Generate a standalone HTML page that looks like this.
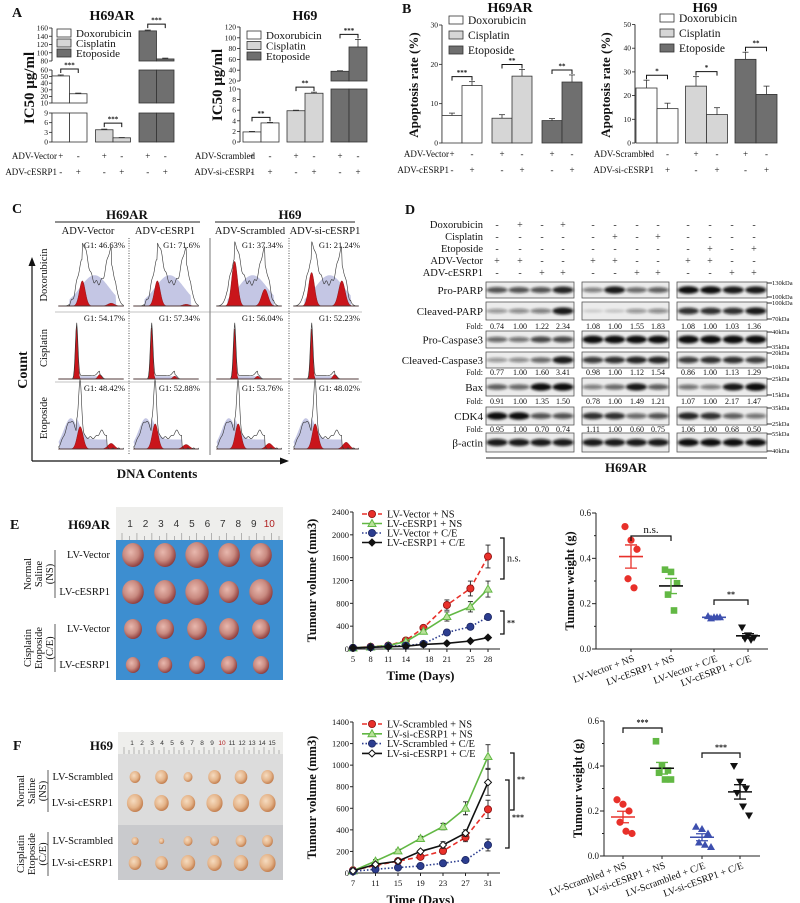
<!DOCTYPE html>
<html><head><meta charset="utf-8"><title>cESRP1 chemoresistance figure</title>
<style>body{margin:0;background:#fff}svg{display:block;font-family:"Liberation Serif",serif}</style></head>
<body>
<svg id="fig" width="800" height="903" viewBox="0 0 800 903" xmlns="http://www.w3.org/2000/svg">
<defs>
<filter id="blur1" x="-20%" y="-50%" width="140%" height="200%"><feGaussianBlur stdDeviation="1.3"/></filter>
<radialGradient id="tumR" cx="40%" cy="38%" r="65%"><stop offset="0" stop-color="#e8b8ae"/><stop offset=".55" stop-color="#c98a80"/><stop offset="1" stop-color="#8c3a3a"/></radialGradient>
<radialGradient id="tumP" cx="40%" cy="38%" r="65%"><stop offset="0" stop-color="#f6dcc0"/><stop offset=".6" stop-color="#e4b48a"/><stop offset="1" stop-color="#c07a4a"/></radialGradient>
</defs>
</svg>
<script>
// ---------- DATA ----------
const drugNames = ['Doxorubicin','Cisplatin','Etoposide'];
const aH69ARvals = [51,24,3.8,1.3,153,85];
const aH69ARerr  = [1.5,1,0.2,0.1,2,2];
const aH69ARsig  = ['***','***','***'];
const aH69vals   = [1.9,3.6,5.9,9.2,38,83];
const aH69err    = [0.1,0.1,0.1,0.2,1,14];
const aH69sig    = ['**','**','***'];
const bH69ARvals = [7,14.6,6.3,17,5.7,15.5];
const bH69ARerr  = [0.6,1,0.9,1.7,0.5,1.8];
const bH69ARsig  = ['***','**','**'];
const bH69vals   = [23.2,14.5,24,12,35.3,20.5];
const bH69err    = [3.3,2.3,4,2.9,3,3.5];
const bH69sig    = ['*','*','**'];
const signRow1 = ['+','-','+','-','+','-'];
const signRow2 = ['-','+','-','+','-','+'];

const g1Labels = [['46.63%','71.6%','37.34%','21.24%'],['54.17%','57.34%','56.04%','52.23%'],['48.42%','52.88%','53.76%','48.02%']];
const redG1 = [[0.45,0.45,0.8,0.6],[0.95,0.92,0.9,0.9],[0.4,0.45,0.45,0.45]];
const redG2 = [[0.05,0.03,0.3,0.45],[0.08,0.05,0.05,0.08],[0.1,0.08,0.1,0.12]];

const blotRows = ['Pro-PARP','Cleaved-PARP','Pro-Caspase3','Cleaved-Caspase3','Bax','CDK4','β-actin'];
const foldCP  = ['0.74','1.00','1.22','2.34','1.08','1.00','1.55','1.83','1.08','1.00','1.03','1.36'];
const foldCC3 = ['0.77','1.00','1.60','3.41','0.98','1.00','1.12','1.54','0.86','1.00','1.13','1.29'];
const foldBax = ['0.91','1.00','1.35','1.50','0.78','1.00','1.49','1.21','1.07','1.00','2.17','1.47'];
const foldCDK = ['0.95','1.00','0.70','0.74','1.11','1.00','0.60','0.75','1.06','1.00','0.68','0.50'];
const bandInt = [
 [0.6,0.6,0.6,0.8, 0.4,0.85,0.5,0.55, 0.9,0.9,0.85,0.85],
 [0.3,0.35,0.4,0.85, 0.05,0.08,0.3,0.35, 0.75,0.75,0.75,0.85],
 [0.5,0.45,0.65,0.65, 0.95,0.95,0.95,0.95, 1,1,1,1],
 [0.3,0.35,0.5,0.85, 0.7,0.75,0.8,0.8, 0.7,0.75,0.75,0.7],
 [0.55,0.5,0.9,0.9, 0.4,0.5,0.85,0.55, 0.45,0.4,0.85,0.95],
 [0.9,0.9,0.6,0.6, 0.75,0.75,0.5,0.6, 0.8,0.75,0.55,0.45],
 [0.85,0.85,0.85,0.85, 0.85,0.85,0.85,0.85, 0.9,0.9,0.9,0.9]];

const eDays = [5,8,11,14,17,21,25,28];
const eVecNS   = [20,40,60,150,370,770,1060,1620];
const eVecNSerr= [0,20,20,30,40,90,130,200];
const eCesNS   = [20,35,60,130,310,570,740,1050];
const eCesNSerr= [0,15,20,20,30,80,90,140];
const eVecCE   = [20,30,50,60,90,290,390,560];
const eVecCEerr= [0,10,10,10,10,30,30,40];
const eCesCE   = [20,30,40,50,80,100,140,200];
const eCesCEerr= [0,10,10,10,10,15,20,25];

const fDays = [7,11,15,19,23,27,31];
const fScrNS   = [25,70,110,150,205,330,590];
const fScrNSerr= [10,15,15,20,30,40,85];
const fSiNS    = [20,110,205,320,430,600,1080];
const fSiNSerr = [10,15,15,20,30,60,110];
const fScrCE   = [15,35,50,65,90,120,260];
const fScrCEerr= [10,10,10,10,10,10,55];
const fSiCE    = [20,80,110,200,260,370,840];
const fSiCEerr = [10,10,15,15,30,30,120];

const eWgtGroups = ['LV-Vector + NS','LV-cESRP1 + NS','LV-Vector + C/E','LV-cESRP1 + C/E'];
const eWgt1 = [0.54,0.48,0.44,0.31,0.27];
const eWgt2 = [0.35,0.34,0.29,0.24,0.17];
const eWgt3 = [0.145,0.14,0.14,0.135,0.14];
const eWgt4 = [0.095,0.06,0.05,0.045,0.04];
const fWgtGroups = ['LV-Scrambled + NS','LV-si-cESRP1 + NS','LV-Scrambled + C/E','LV-si-cESRP1 + C/E'];
const fWgt1 = [0.25,0.23,0.2,0.15,0.11,0.1];
const fWgt2 = [0.51,0.4,0.38,0.37,0.34,0.34];
const fWgt3 = [0.13,0.12,0.1,0.06,0.05,0.04];
const fWgt4 = [0.4,0.33,0.3,0.28,0.22,0.18];

// ---------- HELPERS ----------
const NS='http://www.w3.org/2000/svg';
const svg=document.getElementById('fig');
function E(tag,a,p){const e=document.createElementNS(NS,tag);for(const k in a)e.setAttribute(k,a[k]);(p||svg).appendChild(e);return e;}
function nm(e,name,inter){
  
  
  return e;}
function T(x,y,s,size,opt){opt=opt||{};const t=E('text',{x:x,y:y,'font-size':size,fill:opt.fill||'#111','text-anchor':opt.anchor||'start'},opt.p);
 if(opt.bold)t.setAttribute('font-weight','bold');if(opt.rot!=null)t.setAttribute('transform','rotate('+opt.rot+' '+x+' '+y+')');
 if(opt.family)t.setAttribute('font-family',opt.family);t.textContent=s;return t;}
function G(name){return nm(E('g',{}),name,false);}
const barFill=['#ffffff','#d6d6d6','#6f6f6f'];

// ---------- BAR CHART ----------
function barChart(c){
  const g=G(c.name);
  function yOf(v){let s=c.segs.find(s=>v<=s.hi)||c.segs[c.segs.length-1];return s.yb-(v-s.lo)/(s.hi-s.lo)*(s.yb-s.yt);}
  c.segs.forEach(s=>{
    nm(E('line',{x1:c.ax,x2:c.ax,y1:s.yb,y2:s.yt,stroke:'#222','stroke-width':0.9},g),'y-axis-segment',false);
    s.ticks.forEach(t=>{const y=s.yb-(t-s.lo)/(s.hi-s.lo)*(s.yb-s.yt);
      E('line',{x1:c.ax-3,x2:c.ax,y1:y,y2:y,stroke:'#222','stroke-width':0.8},g);
      nm(T(c.ax-4,y+2.5,String(t),7.5,{anchor:'end',p:g}),'y-tick-label',false);});
  });
  c.vals.forEach((v,i)=>{
    const x=c.x0+i*c.bw+Math.floor(i/2)*c.gap;
    c.segs.forEach(s=>{ if(v>s.lo){const top=Math.min(v,s.hi);const yt=s.yb-(top-s.lo)/(s.hi-s.lo)*(s.yb-s.yt);
      const r=E('rect',{x:x,y:yt,width:c.bw,height:s.yb-yt,fill:barFill[Math.floor(i/2)],stroke:'#333','stroke-width':0.8},g);
      nm(r,'bar-'+drugNames[Math.floor(i/2)].toLowerCase()+'-'+(i%2),false);}});
    const cx=x+c.bw/2, e=c.errs[i];
    E('line',{x1:cx,x2:cx,y1:yOf(v),y2:yOf(v+e),stroke:'#333','stroke-width':0.8},g);
    E('line',{x1:cx-3,x2:cx+3,y1:yOf(v+e),y2:yOf(v+e),stroke:'#333','stroke-width':0.8},g);
    nm(T(cx,c.sy1,signRow1[i],9,{anchor:'middle',p:g}),'sign-row1',false);
    nm(T(cx,c.sy2,signRow2[i],9,{anchor:'middle',p:g}),'sign-row2',false);
  });
  for(let k=0;k<3;k++){
    const xa=c.x0+2*k*c.bw+k*c.gap+c.bw/2, xb=xa+c.bw;
    const top=Math.min(yOf(c.vals[2*k]+c.errs[2*k]),yOf(c.vals[2*k+1]+c.errs[2*k+1]));
    const y=top-c.bgap;
    const b=E('path',{d:`M${xa} ${y+4}V${y}H${xb}V${y+4}`,fill:'none',stroke:'#111','stroke-width':1},g);
    nm(b,'significance-bracket',false);
    T((xa+xb)/2,y-1.5,c.sig[k],7,{anchor:'middle',p:g,bold:true});
  }
  nm(T(c.rl,c.sy1,c.r1,9,{anchor:'end',p:g}),'row-label',false);
  nm(T(c.rl,c.sy2,c.r2,9,{anchor:'end',p:g}),'row-label',false);
  nm(T(c.ylx,c.yly,c.ylab,c.ylSize,{anchor:'middle',bold:true,rot:-90,p:g}),'y-axis-title',false);
  nm(T(c.tx,c.ty,c.title,14,{anchor:'middle',bold:true,p:g}),'chart-title',false);
  drugNames.forEach((d,k)=>{
    nm(E('rect',{x:c.lx,y:c.ly+k*c.ld-8,width:14,height:8,fill:barFill[k],stroke:'#333','stroke-width':0.8},g),'legend-swatch',false);
    nm(T(c.lx+19,c.ly+k*c.ld,d,c.lSize,{p:g}),'legend-entry',false);
  });
}

nm(T(12,17,'A',14,{bold:true}),'panel-label-a',false);
barChart({name:'chart-a-h69ar',ax:52,segs:[{lo:0,hi:9,yb:142,yt:113,ticks:[0,3,6,9]},{lo:10,hi:60,yb:103,yt:70,ticks:[10,20,30,40,50,60]},{lo:80,hi:160,yb:61,yt:28,ticks:[80,100,120,140,160]}],
 x0:52,bw:17.5,gap:8.5,vals:aH69ARvals,errs:aH69ARerr,sig:aH69ARsig,bgap:6,sy1:159,sy2:175,rl:57,r1:'ADV-Vector',r2:'ADV-cESRP1',
 ylx:34,yly:88,ylab:'IC50 μg/ml',ylSize:15,tx:112,ty:20,title:'H69AR',lx:57,ly:37,ld:10,lSize:11});
barChart({name:'chart-a-h69',ax:240,segs:[{lo:0,hi:10,yb:142,yt:89,ticks:[0,2,4,6,8,10]},{lo:20,hi:120,yb:81,yt:27,ticks:[20,40,60,80,100,120]}],
 x0:243,bw:18,gap:8,vals:aH69vals,errs:aH69err,sig:aH69sig,bgap:5,sy1:159,sy2:175,rl:255,r1:'ADV-Scrambled',r2:'ADV-si-cESRP1',
 ylx:222,yly:85,ylab:'IC50 μg/ml',ylSize:15,tx:305,ty:20,title:'H69',lx:247,ly:39,ld:10.5,lSize:11});
nm(T(402,13,'B',14,{bold:true}),'panel-label-b',false);
barChart({name:'chart-b-h69ar',ax:442,segs:[{lo:0,hi:30,yb:143,yt:25,ticks:[0,10,20,30]}],
 x0:442,bw:20,gap:10,vals:bH69ARvals,errs:bH69ARerr,sig:bH69ARsig,bgap:5,sy1:157,sy2:173,rl:449,r1:'ADV-Vector',r2:'ADV-cESRP1',
 ylx:418,yly:85,ylab:'Apoptosis rate (%)',ylSize:13,tx:510,ty:12,title:'H69AR',lx:449,ly:24,ld:15,lSize:11.5});
barChart({name:'chart-b-h69',ax:635,segs:[{lo:0,hi:50,yb:143,yt:24.5,ticks:[0,10,20,30,40,50]}],
 x0:636,bw:21,gap:7.5,vals:bH69vals,errs:bH69err,sig:bH69sig,bgap:5,sy1:157,sy2:173,rl:654,r1:'ADV-Scrambled',r2:'ADV-si-cESRP1',
 ylx:610,yly:85,ylab:'Apoptosis rate (%)',ylSize:13,tx:705,ty:12,title:'H69',lx:660,ly:22,ld:15,lSize:11.5});

// ---------- PANEL C ----------
(function(){
 const g=G('panel-c-cell-cycle');
 T(12,213,'C',14,{bold:true,p:g});
 nm(T(127,219,'H69AR',13,{bold:true,anchor:'middle',p:g}),'group-title',false);
 nm(T(290,219,'H69',13,{bold:true,anchor:'middle',p:g}),'group-title',false);
 E('line',{x1:55,x2:200,y1:222,y2:222,stroke:'#222'},g);E('line',{x1:215,x2:355,y1:222,y2:222,stroke:'#222'},g);
 [['ADV-Vector',88],['ADV-cESRP1',165],['ADV-Scrambled',250],['ADV-si-cESRP1',325]].forEach(a=>nm(T(a[1],234,a[0],10.5,{anchor:'middle',p:g}),'column-label',false));
 const cols=[55,130,213,290], rows=[240,313,383], W=72;
 ['Doxorubicin','Cisplatin','Etoposide'].forEach((r,ri)=>nm(T(47,rows[ri]+35,r,10.5,{anchor:'middle',rot:-90,p:g}),'row-label',false));
 E('line',{x1:129,x2:129,y1:238,y2:455,stroke:'#555','stroke-dasharray':'1 1.5'},g);
 E('line',{x1:289,x2:289,y1:238,y2:455,stroke:'#555','stroke-dasharray':'1 1.5'},g);
 E('line',{x1:210,x2:210,y1:238,y2:455,stroke:'#555','stroke-width':0.8},g);
 E('line',{x1:55,x2:362,y1:312,y2:312,stroke:'#888','stroke-width':0.6},g);
 E('line',{x1:55,x2:362,y1:382,y2:382,stroke:'#888','stroke-width':0.6},g);
 const gs=(x,m,s)=>Math.exp(-0.5*((x-m)/s)**2);
 rows.forEach((ry,ri)=>cols.forEach((cx,ci)=>{
   const cg=nm(E('g',{},g),'histogram-cell',false);
   const base=ry+66;
   let m1=ri==1?0.3:(ri==0?0.38:0.35), m2=ri==1?0.62:0.78;
   if(ri==0&&ci>=2){m1=0.3;m2=0.72;}
   const f=x=>{ if(ri==0) return 0.8*gs(x,m1,0.07)+0.7*gs(x,m2,0.06)+0.4*(x>m1&&x<m2?1:0)*gs(x,(m1+m2)/2,0.3)+0.04*Math.sin(x*90)*(x>0.2&&x<0.85?1:0);
     if(ri==1) return 0.95*gs(x,m1,0.018)+0.08*gs(x,m2,0.03)+0.06*(x>m1&&x<m2?1:0);
     return 0.9*gs(x,m1,0.02)+0.5*gs(x,0.22,0.08)+0.2*(x>0.3&&x<0.72?1:0)+0.12*gs(x,0.65,0.04)+0.02*Math.sin(x*80);};
   const lav=x=>{ if(ri==0) return 0.55*(x>0.2&&x<0.85?1:0)*gs(x,0.55,0.2); if(ri==1) return 0.05*(x>m1&&x<m2+0.05?1:0); return 0.55*gs(x,0.22,0.1)+0.17*(x>0.3&&x<0.72?1:0);};
   const red1=x=>redG1[ri][ci]*gs(x,m1,ri==1?0.016:0.04), red2=x=>redG2[ri][ci]*gs(x,m2,ri==1?0.025:0.045);
   const path=(fn)=>{let d=`M${cx+5} ${base}`;for(let i=0;i<=100;i++){const x=0.05+i*0.009;d+=`L${cx+x*W} ${base-Math.max(0,fn(x))*56}`;}return d+`L${cx+0.95*W} ${base}Z`;};
   E('path',{d:path(lav),fill:'#c4c6e4',stroke:'none'},cg);
   E('path',{d:path(red1),fill:'#c9151b',stroke:'#7a0a0a','stroke-width':0.4},cg);
   E('path',{d:path(red2),fill:'#c9151b',stroke:'#7a0a0a','stroke-width':0.4},cg);
   E('path',{d:path(f),fill:'none',stroke:'#333','stroke-width':0.6},cg);
   E('line',{x1:cx+3,x2:cx+W-3,y1:base,y2:base,stroke:'#444','stroke-width':0.6},cg);
   nm(T(cx+W-2,ry+8,'G1:  '+g1Labels[ri][ci],8.5,{anchor:'end',p:cg}),'g1-percentage',false);
 }));
 E('path',{d:'M32 461V262',stroke:'#111','stroke-width':1.2,fill:'none'},g);E('path',{d:'M28.5 266L32 257L35.5 266Z',fill:'#111'},g);
 E('path',{d:'M32 461H284',stroke:'#111','stroke-width':1.2,fill:'none'},g);E('path',{d:'M280 457.5L289 461L280 464.5Z',fill:'#111'},g);
 nm(T(27,370,'Count',14,{bold:true,anchor:'middle',rot:-90,p:g}),'y-axis-title',false);
 nm(T(157,478,'DNA Contents',13,{bold:true,anchor:'middle',p:g}),'x-axis-title',false);
})();

// ---------- PANEL D ----------
(function(){
 const g=G('panel-d-western-blot');
 T(405,214,'D',14,{bold:true,p:g});
 const labels=['Doxorubicin','Cisplatin','Etoposide','ADV-Vector','ADV-cESRP1'];
 const signs=[['-','+','-','+','-','-','-','-','-','-','-','-'],['-','-','-','-','-','+','-','+','-','-','-','-'],['-','-','-','-','-','-','-','-','-','+','-','+'],
   ['+','+','-','-','+','+','-','-','+','+','-','-'],['-','-','+','+','-','-','+','+','-','-','+','+']];
 const colX=[497,520,542,563,593,615,637,658,688,710,732,754];
 labels.forEach((l,i)=>{nm(T(483,228+i*12,l,10.5,{anchor:'end',p:g}),'treatment-label',false);
   signs[i].forEach((s,j)=>T(colX[j],228+i*12,s,10,{anchor:'middle',p:g,fill:'#333'}));});
 const blocks=[[486,574],[582,669],[677,767]];
 const rowY=[[282,298],[302,320],[331,348],[352,368],[378,396],[407,425],[433,452]];
 const folds={1:foldCP,3:foldCC3,4:foldBax,5:foldCDK};
 const foldY={1:329,3:375,4:404,5:432};
 const kda=[['130kDa','100kDa'],['100kDa','70kDa'],['40kDa','35kDa'],['20kDa','10kDa'],['25kDa','15kDa'],['35kDa','25kDa'],['55kDa','40kDa']];
 rowY.forEach((ry,ri)=>{
   nm(T(483,(ry[0]+ry[1])/2+4,blotRows[ri],11,{anchor:'end',p:g}),'protein-label',false);
   blocks.forEach((b,bi)=>{
     nm(E('rect',{x:b[0],y:ry[0],width:b[1]-b[0],height:ry[1]-ry[0],fill:'#ececec',stroke:'#555','stroke-width':0.8},g),'blot-strip',false);
     for(let j=0;j<4;j++){const k=bi*4+j, v=bandInt[ri][k];
       const bx=b[0]+(b[1]-b[0])*(j+0.5)/4;
       E('ellipse',{cx:bx,cy:(ry[0]+ry[1])/2,rx:10.5,ry:1.5+2.5*v,fill:'#111','fill-opacity':Math.min(1,0.1+v),filter:'url(#blur1)'},g);}
   });
   E('line',{x1:767,x2:772,y1:ry[0]+1,y2:ry[0]+1,stroke:'#333'},g);E('line',{x1:767,x2:772,y1:ry[1]-1,y2:ry[1]-1,stroke:'#333'},g);
   T(772,ry[0]+3,kda[ri][0],6.5,{p:g});T(772,ry[1]+1,kda[ri][1],6.5,{p:g});
   if(folds[ri]){T(483,foldY[ri],'Fold:',8,{anchor:'end',p:g});
     folds[ri].forEach((f,k)=>nm(T(colX[k],foldY[ri],f,8,{anchor:'middle',p:g}),'fold-value',false));}
 });
 E('line',{x1:486,x2:767,y1:458,y2:458,stroke:'#222','stroke-width':1},g);
 nm(T(626,472,'H69AR',13,{bold:true,anchor:'middle',p:g}),'cell-line-label',false);
})();

// ---------- PHOTOS ----------
function photo(o){
 const g=G(o.name);
 T(o.lx-100,o.ly,o.panel,14,{bold:true,p:g});
 E('rect',{x:o.x,y:o.y,width:o.w,height:o.h,fill:o.bg},g);
 E('rect',{x:o.x,y:o.y,width:o.w,height:o.rh,fill:'#eeeeec'},g);
 for(let i=0;i<o.n*2+2;i++){const x=o.x+6+i*(o.w-10)/(o.n*2+1);E('line',{x1:x,x2:x,y1:o.y+o.rh-(i%2?4:7),y2:o.y+o.rh,stroke:'#777','stroke-width':0.5},g);}
 for(let i=1;i<=o.n;i++){T(o.x+14+(i-1)*(o.w-20)/(o.n-0.5),o.y+o.rh*0.6,String(i),o.fs,{anchor:'middle',p:g,fill:i==10?'#b02020':'#333',family:'"Liberation Sans",sans-serif'});}
 if(o.split) E('rect',{x:o.x,y:o.split,width:o.w,height:o.y+o.h-o.split,fill:o.bg2},g);
 nm(T(o.lx,o.ly,o.cell,13,{bold:true,anchor:'end',p:g}),'cell-line-label',false);
 o.rows.forEach((r,ri)=>{nm(T(o.lx,r.y,r.t,10.5,{anchor:'end',p:g}),'group-label',false);
   r.s.forEach((s,k)=>{const cx=o.x+o.x0+k*o.dx;nm(E('ellipse',{cx:cx,cy:r.y-3,rx:s*0.9,ry:s,fill:o.fill},g),'tumour',false);});});
 o.groups.forEach(gr=>{E('line',{x1:gr.lx,x2:gr.lx,y1:gr.y1,y2:gr.y2,stroke:'#333','stroke-width':0.8},g);
   gr.lines.forEach((l,i)=>T(gr.lx-24+i*11,(gr.y1+gr.y2)/2,l,10.5,{anchor:'middle',rot:-90,p:g}));});
}
photo({name:'panel-e-tumour-photo',panel:'E',x:116,y:507,w:167,h:173,rh:33,bg:'#3d8ed0',bg2:'#3b88c8',split:null,n:10,fs:10,lx:110,ly:529,cell:'H69AR',fill:'url(#tumR)',x0:17,dx:32,
 rows:[{t:'LV-Vector',y:558,s:[12,12,13,12,12]},{t:'LV-cESRP1',y:595,s:[12,12,13,11,13]},{t:'LV-Vector',y:632,s:[10,10,11,11,10]},{t:'LV-cESRP1',y:668,s:[8,8,9,9,9]}],
 groups:[{lx:55,y1:550,y2:598,lines:['Normal','Saline','(NS)']},{lx:55,y1:624,y2:672,lines:['Cisplatin','Etoposide','(C/E)']}]});
photo({name:'panel-f-tumour-photo',panel:'F',x:118,y:732,w:165,h:148,rh:22,bg:'#dcdcdc',bg2:'#c9cacd',split:825,n:15,fs:6.5,lx:113,ly:750,cell:'H69',fill:'url(#tumP)',x0:17,dx:26.5,
 rows:[{t:'LV-Scrambled',y:780,s:[6,7,5,7,7,7]},{t:'LV-si-cESRP1',y:806,s:[9,8,8,9,9,9]},{t:'LV-Scrambled',y:844,s:[4,3,5,5,6,6]},{t:'LV-si-cESRP1',y:866,s:[7,7,8,8,8,9]}],
 groups:[{lx:48,y1:770,y2:812,lines:['Normal','Saline','(NS)']},{lx:48,y1:832,y2:876,lines:['Cisplatin','Etoposide','(C/E)']}]});

// ---------- LINE CHARTS ----------
function lineChart(c){
 const g=G(c.name);
 const X=d=>c.ax+(d-c.xmin)/(c.xmax-c.xmin)*(c.xr-c.ax), Y=v=>c.y0-v/c.ymax*(c.y0-c.yt);
 E('line',{x1:c.ax,x2:c.ax,y1:c.y0,y2:c.yt,stroke:'#222','stroke-width':1},g);
 E('line',{x1:c.ax,x2:c.xr+12,y1:c.y0,y2:c.y0,stroke:'#222','stroke-width':1},g);
 c.yt_.forEach(t=>{E('line',{x1:c.ax-3,x2:c.ax,y1:Y(t),y2:Y(t),stroke:'#222'},g);nm(T(c.ax-4,Y(t)+3,String(t),8.5,{anchor:'end',p:g}),'y-tick-label',false);});
 c.xt.forEach(t=>{E('line',{x1:X(t),x2:X(t),y1:c.y0,y2:c.y0+3,stroke:'#222'},g);nm(T(X(t),c.y0+13,String(t),8.5,{anchor:'middle',p:g}),'x-tick-label',false);});
 c.series.forEach((s,si)=>{
   const sg=nm(E('g',{},g),'series-'+s.key,false);
   let d='';c.days.forEach((dd,i)=>d+=(i?'L':'M')+X(dd)+' '+Y(s.v[i]));
   E('path',{d:d,fill:'none',stroke:s.col,'stroke-width':1.6,'stroke-dasharray':s.dash||'none'},sg);
   c.days.forEach((dd,i)=>{const x=X(dd),y=Y(s.v[i]),e=s.e[i];
     if(e>0){E('path',{d:`M${x} ${Y(s.v[i]-e)}V${Y(s.v[i]+e)}M${x-2.5} ${Y(s.v[i]+e)}h5M${x-2.5} ${Y(s.v[i]-e)}h5`,stroke:'#222','stroke-width':0.9,fill:'none'},sg);}
     marker(s.mk,x,y,s,sg);});
   const ly=c.ly+si*c.ld;
   E('line',{x1:c.lx-10,x2:c.lx+10,y1:ly,y2:ly,stroke:s.col,'stroke-width':1.6,'stroke-dasharray':s.dash||'none'},g);
   marker(s.mk,c.lx,ly,s,g);
   nm(T(c.lx+15,ly+3.5,s.label,10.5,{p:g}),'legend-entry',false);
 });
 c.br.forEach(b=>{nm(E('path',{d:`M${b.x-4} ${b.y1}H${b.x}V${b.y2}H${b.x-4}`,fill:'none',stroke:'#111','stroke-width':1.3},g),'significance-bracket',false);
   T(b.x+3,b.ty!=null?b.ty:(b.y1+b.y2)/2+3,b.t,b.t=='n.s.'?10:8,{p:g,bold:b.t!='n.s.'});});
 nm(T(c.ax-37,(c.y0+c.yt)/2,'Tumour volume  (mm3)',12.5,{bold:true,anchor:'middle',rot:-90,p:g}),'y-axis-title',false);
 nm(T((c.ax+c.xr)/2,c.y0+31,'Time (Days)',13,{bold:true,anchor:'middle',p:g}),'x-axis-title',false);
}
function marker(m,x,y,s,p){
 if(m=='c')E('circle',{cx:x,cy:y,r:3.6,fill:s.col,stroke:s.stroke,'stroke-width':0.8},p);
 else if(m=='t')E('path',{d:`M${x} ${y-4}L${x+4} ${y+3}L${x-4} ${y+3}Z`,fill:'#b9e29a',stroke:s.col,'stroke-width':1},p);
 else if(m=='d')E('path',{d:`M${x} ${y-3.5}L${x+3.5} ${y}L${x} ${y+3.5}L${x-3.5} ${y}Z`,fill:s.fill||'#111',stroke:'#111','stroke-width':1},p);
}
lineChart({name:'chart-e-tumour-volume',ax:353,xr:488,xmin:5,xmax:28,y0:649,yt:512,ymax:2400,yt_:[0,400,800,1200,1600,2000,2400],xt:[5,8,11,14,18,21,25,28],days:eDays,
 lx:372,ly:514,ld:9.5,
 series:[{key:'vector-ns',label:'LV-Vector + NS',v:eVecNS,e:eVecNSerr,col:'#e8302a',stroke:'#8a1010',dash:'5 3',mk:'c'},
  {key:'cesrp1-ns',label:'LV-cESRP1 + NS',v:eCesNS,e:eCesNSerr,col:'#62b844',mk:'t'},
  {key:'vector-ce',label:'LV-Vector + C/E',v:eVecCE,e:eVecCEerr,col:'#2c3d8f',stroke:'#1a2560',dash:'1.5 2',mk:'c'},
  {key:'cesrp1-ce',label:'LV-cESRP1 + C/E',v:eCesCE,e:eCesCEerr,col:'#111',mk:'d'}],
 br:[{x:504,y1:538,y2:579,t:'n.s.'},{x:504,y1:611,y2:634,t:'**'}]});
lineChart({name:'chart-f-tumour-volume',ax:353,xr:488,xmin:7,xmax:31,y0:873,yt:722,ymax:1400,yt_:[0,200,400,600,800,1000,1200,1400],xt:[7,11,15,19,23,27,31],days:fDays,
 lx:372,ly:724,ld:9.8,
 series:[{key:'scrambled-ns',label:'LV-Scrambled + NS',v:fScrNS,e:fScrNSerr,col:'#e8302a',stroke:'#8a1010',dash:'5 3',mk:'c'},
  {key:'si-ns',label:'LV-si-cESRP1 + NS',v:fSiNS,e:fSiNSerr,col:'#62b844',mk:'t'},
  {key:'scrambled-ce',label:'LV-Scrambled + C/E',v:fScrCE,e:fScrCEerr,col:'#2c3d8f',stroke:'#1a2560',dash:'1.5 2',mk:'c'},
  {key:'si-ce',label:'LV-si-cESRP1 + C/E',v:fSiCE,e:fSiCEerr,col:'#111',mk:'d',fill:'#fff'}],
 br:[{x:514,y1:753,y2:810,t:'**',ty:782},{x:509,y1:780,y2:848,t:'***',ty:820}]});

// ---------- SCATTER ----------
function scatter(c){
 const g=G(c.name);
 const Y=v=>c.y0-v/0.6*(c.y0-c.yt);
 E('line',{x1:c.ax,x2:c.ax,y1:c.y0,y2:c.yt,stroke:'#222'},g);
 E('line',{x1:c.ax,x2:c.gx[3]+20,y1:c.y0,y2:c.y0,stroke:'#222'},g);
 [0,0.2,0.4,0.6].forEach(t=>{E('line',{x1:c.ax-4,x2:c.ax,y1:Y(t),y2:Y(t),stroke:'#222'},g);nm(T(c.ax-5,Y(t)+3,t.toFixed(1),9,{anchor:'end',p:g}),'y-tick-label',false);});
 [0.1,0.3,0.5].forEach(t=>E('line',{x1:c.ax-2,x2:c.ax,y1:Y(t),y2:Y(t),stroke:'#222'},g));
 const cols=['#e8302a','#62b844','#3d4fae','#111'];
 c.data.forEach((arr,gi)=>{
   const sg=nm(E('g',{},g),'scatter-group-'+(gi+1),false);
   const gx=c.gx[gi];
   arr.forEach((v,i)=>{const x=gx+((i%3)-1)*6+(i>=3?3:0), y=Y(v);
     if(gi==0)E('circle',{cx:x,cy:y,r:3.6,fill:cols[0]},sg);
     else if(gi==1)E('rect',{x:x-3.3,y:y-3.3,width:6.6,height:6.6,fill:cols[1]},sg);
     else if(gi==2)E('path',{d:`M${x} ${y-4}L${x+4} ${y+3}L${x-4} ${y+3}Z`,fill:cols[2]},sg);
     else E('path',{d:`M${x} ${y+4}L${x+4} ${y-3}L${x-4} ${y-3}Z`,fill:cols[3]},sg);});
   const mean=arr.reduce((a,b)=>a+b,0)/arr.length;
   const sd=Math.sqrt(arr.reduce((a,b)=>a+(b-mean)**2,0)/(arr.length-1)), se=sd/Math.sqrt(arr.length);
   E('line',{x1:gx-12,x2:gx+12,y1:Y(mean),y2:Y(mean),stroke:gi==3||gi==1?'#111':cols[gi],'stroke-width':1.6},sg);
   E('path',{d:`M${gx} ${Y(mean-se)}V${Y(mean+se)}M${gx-6} ${Y(mean+se)}h12M${gx-6} ${Y(mean-se)}h12`,stroke:cols[gi],'stroke-width':1.3,fill:'none'},sg);
   E('line',{x1:gx,x2:gx,y1:c.y0,y2:c.y0+3,stroke:'#222'},g);
   nm(T(gx+4,c.y0+12,c.groups[gi],10,{anchor:'end',rot:-20,p:g}),'x-tick-label',false);
 });
 c.br.forEach(b=>{const xa=c.gx[b.a],xb=c.gx[b.b];
   nm(E('path',{d:`M${xa} ${b.y+5}V${b.y}H${xb}V${b.y+5}`,fill:'none',stroke:'#111','stroke-width':1.2},g),'significance-bracket',false);
   T((xa+xb)/2,b.y-3,b.t,b.t=='n.s.'?11:8,{anchor:'middle',p:g,bold:b.t!='n.s.'});});
 nm(T(c.ax-22,(c.y0+c.yt)/2,'Tumour weight  (g)',12.5,{bold:true,anchor:'middle',rot:-90,p:g}),'y-axis-title',false);
}
scatter({name:'chart-e-tumour-weight',ax:596,y0:649,yt:513,gx:[631,671,714,748],groups:eWgtGroups,data:[eWgt1,eWgt2,eWgt3,eWgt4],
 br:[{a:0,b:1,y:536,t:'n.s.'},{a:2,b:3,y:600,t:'**'}]});
scatter({name:'chart-f-tumour-weight',ax:604,y0:856,yt:721,gx:[623,662,702,740],groups:fWgtGroups,data:[fWgt1,fWgt2,fWgt3,fWgt4],
 br:[{a:0,b:1,y:728,t:'***'},{a:2,b:3,y:753,t:'***'}]});
</script>
</body></html>
